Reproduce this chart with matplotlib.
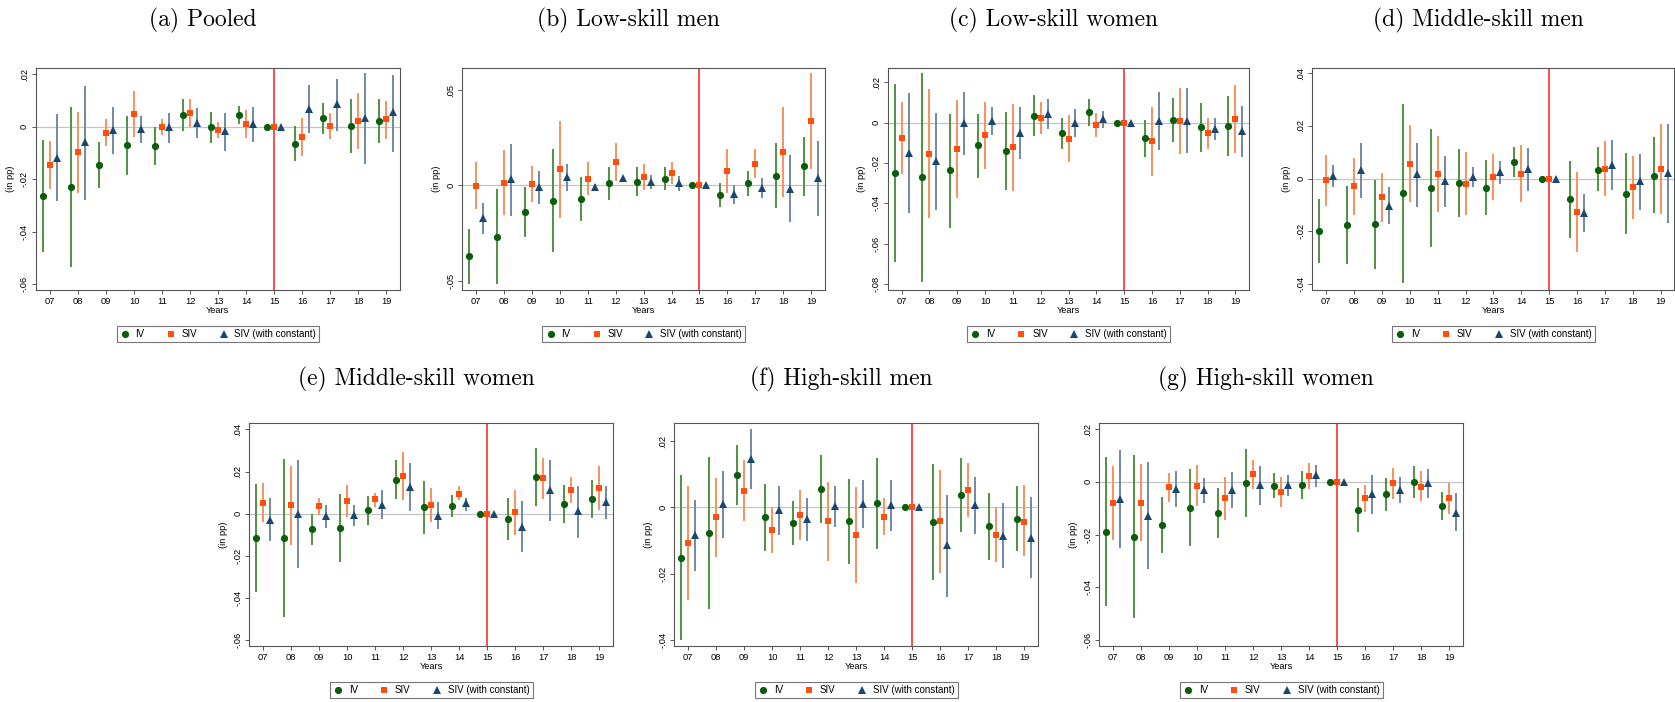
import matplotlib
matplotlib.use("Agg")
import matplotlib.pyplot as plt
from matplotlib.lines import Line2D

# ---------------- DATA ----------------
# each entry: (estimate, lower CI, upper CI) for years 2007..2019 (2015 = reference year)

years = list(range(7, 20))
year_labels = [f"{y:02d}" for y in years]

a_iv = [(-.0266, -.0479, -.0052), (-.0231, -.0535, .0073), (-.0146, -.0234, -.0059), (-.0071, -.0186, .0042),
        (-.0073, -.0148, 0), (.0043, -.0018, .0103), (-.0001, -.0061, .0056), (.0043, .0009, .0078), (0, 0, 0),
        (-.0065, -.0132, .0001), (.0031, -.0029, .0089), (.0001, -.0101, .0104), (.0022, -.0062, .0104)]
a_siv = [(-.0146, -.0237, -.0056), (-.0097, -.0252, .0056), (-.0023, -.0073, .0027), (.0048, -.0039, .0135),
         (0, -.0032, .0028), (.0052, -.0003, .0103), (-.0013, -.0043, .0018), (.0009, -.0043, .0062), (0, 0, 0),
         (-.0039, -.0112, .0031), (.0004, -.0046, .0052), (.0022, -.0084, .0126), (.0027, -.0048, .0099)]
a_sivc = [(-.0118, -.0282, .0046), (-.0059, -.0279, .0155), (-.0013, -.0104, .0076), (-.0009, -.0062, .0042),
          (0, -.0061, .0053), (.0014, -.0043, .007), (-.0018, -.0092, .0053), (.0009, -.0057, .0073), (0, 0, 0),
          (.0068, -.0024, .0159), (.0084, -.0018, .0181), (.0033, -.0143, .0203), (.0054, -.0096, .0197)]

b_iv = [(-.0371, -.0516, -.0229), (-.0269, -.0516, -.0021), (-.0142, -.0273, -.001), (-.008, -.0351, .0191),
        (-.0072, -.0189, .0044), (.001, -.0077, .0098), (.0019, -.0054, .0096), (.0035, -.0024, .0096), (0, 0, 0),
        (-.0052, -.0115, .0012), (.001, -.0056, .0075), (.0051, -.0121, .0222), (.01, -.0054, .0253)]
b_siv = [(-.0002, -.0126, .0121), (.0014, -.0154, .0184), (.0007, -.0086, .0101), (.0084, -.017, .0339),
         (.0035, -.0052, .0124), (.0122, .0023, .0222), (.0044, -.0026, .0112), (.0063, .0005, .0122), (0, 0, 0),
         (.0075, -.0038, .0191), (.0112, .0037, .0191), (.0173, -.0063, .0411), (.0337, .0087, .0587)]
b_sivc = [(-.0173, -.0257, -.0094), (.0033, -.0159, .0219), (-.0009, -.0096, .0077), (.0045, -.0028, .0112),
          (-.0007, -.0019, .0009), (.0037, .0016, .0051), (.0016, -.0021, .0054), (.001, -.0028, .0047), (0, 0, 0),
          (-.0047, -.0096, 0), (-.0012, -.0068, .0038), (-.0017, -.0192, .0159), (.004, -.0159, .0234)]

c_iv = [(-.0251, -.0693, .019), (-.0271, -.0788, .0245), (-.0236, -.0521, .0043), (-.0112, -.0273, .0043),
        (-.0139, -.0332, .0053), (.0035, -.0066, .0136), (-.0051, -.0131, .0025), (.0051, -.0018, .0119), (0, 0, 0),
        (-.0078, -.017, .0013), (.0013, -.0098, .0124), (-.0021, -.0144, .0099), (-.0017, -.0167, .0132)]
c_siv = [(-.0076, -.0256, .0104), (-.0155, -.0474, .0164), (-.0129, -.0372, .0112), (-.0061, -.0228, .0104),
         (-.0122, -.0337, .0091), (.0023, -.0055, .0104), (-.0079, -.0193, .0036), (-.0013, -.0074, .0046), (0, 0, 0),
         (-.0093, -.0263, .0076), (.0007, -.0155, .0169), (-.0053, -.0129, .0025), (.0018, -.015, .0187)]
c_sivc = [(-.015, -.045, .0145), (-.0192, -.0431, .0046), (-.0003, -.016, .0154), (.001, -.0061, .0078),
          (-.005, -.0179, .0078), (.0043, -.003, .0116), (-.0002, -.0073, .0068), (.0017, -.0025, .0055), (0, 0, 0),
          (.001, -.0136, .015), (.001, -.015, .0169), (-.0031, -.0086, .0023), (-.0043, -.0169, .0083)]

d_iv = [(-.0199, -.0322, -.0077), (-.0175, -.0323, -.0028), (-.0173, -.0343, -.0004), (-.0056, -.0395, .0284),
        (-.0034, -.0258, .019), (-.0015, -.0144, .0113), (-.0035, -.014, .007), (.0062, .0006, .0119), (0, 0, 0),
        (-.0078, -.0224, .0066), (.0033, -.0049, .0119), (-.0058, -.0211, .0096), (.0011, -.0132, .0157)]
d_siv = [(-.0006, -.0103, .009), (-.003, -.0139, .0078), (-.0071, -.0163, .0022), (.0057, -.0089, .0204),
         (.0019, -.0128, .0163), (-.002, -.0138, .01), (.0006, -.008, .0094), (.0019, -.0089, .0128), (0, 0, 0),
         (-.0125, -.0277, .0025), (.0038, -.0068, .0144), (-.0033, -.0154, .0087), (.0035, -.0135, .0206)]
d_sivc = [(.0011, -.0032, .0053), (.0033, -.0072, .0135), (-.0103, -.0173, -.0033), (.0016, -.0108, .0135),
          (-.0011, -.0109, .0085), (.0006, -.0032, .0043), (.0024, -.0019, .0065), (.0035, -.0047, .0116), (0, 0, 0),
          (-.0129, -.0201, -.0059), (.0053, -.0043, .0147), (-.0011, -.012, .0095), (.002, -.017, .0208)]

e_iv = [(-.0116, -.0373, .0143), (-.0117, -.0492, .0259), (-.0073, -.0149, 0), (-.0068, -.0232, .0092),
        (.0017, -.0052, .0084), (.0162, .0067, .0257), (.003, -.0097, .0157), (.0037, -.0016, .0089), (0, 0, 0),
        (-.0027, -.0124, .0073), (.0173, .0035, .0311), (.0046, -.0046, .0138), (.0071, -.0019, .0162)]
e_siv = [(.0052, -.0041, .0144), (.004, -.0148, .0225), (.0035, -.0008, .0076), (.006, -.0017, .0135),
         (.0068, .0033, .01), (.0179, .0063, .0295), (.0041, -.0038, .0121), (.0095, .0063, .013), (0, 0, 0),
         (.0006, -.01, .0113), (.0168, .0071, .0263), (.0111, .0049, .0175), (.0122, .0019, .0224)]
e_sivc = [(-.003, -.0132, .0073), (-.0002, -.0259, .0256), (-.0011, -.0067, .0043), (-.0006, -.0059, .0043),
          (.0043, -.0027, .0111), (.0127, .001, .0241), (-.001, -.0073, .0054), (.0048, .0013, .0075), (0, 0, 0),
          (-.0062, -.0184, .006), (.0111, -.0035, .0254), (.001, -.0116, .0133), (.0054, -.0025, .0132)]

f_iv = [(-.0152, -.0401, .0097), (-.0078, -.0307, .0151), (.0098, .0008, .0189), (-.003, -.013, .007),
        (-.0047, -.0114, .0019), (.0056, -.0047, .0158), (-.0042, -.017, .0086), (.0013, -.0124, .0149), (0, 0, 0),
        (-.0043, -.0219, .0132), (.0038, -.0074, .015), (-.0057, -.0157, .0043), (-.0034, -.0132, .0064)]
f_siv = [(-.0107, -.028, .0066), (-.0029, -.0149, .009), (.0051, -.0042, .0143), (-.0068, -.0136, .0001),
         (-.0022, -.0097, .0054), (-.0042, -.0161, .0077), (-.0084, -.0227, .0062), (-.0028, -.0082, .0028), (0, 0, 0),
         (-.0042, -.0198, .0114), (.0053, -.0028, .0135), (-.0084, -.0166, 0), (-.0045, -.0146, .0069)]
f_sivc = [(-.0083, -.0192, .0022), (.001, -.0092, .011), (.0147, .0056, .0237), (-.0008, -.0084, .0065),
          (-.0034, -.01, .0029), (.0004, -.0059, .0066), (.001, -.0063, .0082), (.0006, -.0072, .0082), (0, 0, 0),
          (-.0113, -.0269, .0038), (.0006, -.0079, .0092), (-.0085, -.0184, .0012), (-.0091, -.0213, .0032)]

g_iv = [(-.0189, -.0472, .0094), (-.0208, -.0517, .0103), (-.0162, -.027, -.0057), (-.0099, -.0245, .0048),
        (-.012, -.0215, -.0023), (-.0004, -.0132, .0123), (-.0015, -.0063, .0033), (-.0013, -.0067, .0042), (0, 0, 0),
        (-.0107, -.0191, -.0024), (-.0048, -.0109, .0016), (-.0001, -.0063, .0059), (-.0093, -.0146, -.0039)]
g_siv = [(-.0081, -.0221, .006), (-.0079, -.0226, .0069), (-.002, -.0075, .0034), (-.0015, -.0093, .0064),
         (-.0063, -.0146, .0019), (.0028, -.0028, .0082), (-.0038, -.0094, .0019), (.0023, -.0026, .0072), (0, 0, 0),
         (-.0063, -.0114, -.0013), (-.0006, -.0065, .0054), (-.0018, -.0072, .0042), (-.0063, -.0123, -.0005)]
g_sivc = [(-.0065, -.0253, .0121), (-.0128, -.0332, .0077), (-.0026, -.0094, .0042), (-.0031, -.0079, .0016),
          (-.003, -.0098, .0038), (-.0014, -.0089, .006), (-.0014, -.0055, .0026), (.0025, -.0018, .0064), (0, 0, 0),
          (-.0048, -.0121, .0024), (-.003, -.0081, .0019), (-.0004, -.0062, .0049), (-.0117, -.0187, -.0044)]

titles = ["(a) Pooled", "(b) Low-skill men", "(c) Low-skill women", "(d) Middle-skill men",
          "(e) Middle-skill women", "(f) High-skill men", "(g) High-skill women"]
series_names = ["IV", "SIV", "SIV (with constant)"]

# ---------------- STYLE ----------------

W, H = 1675, 702
fig = plt.figure(figsize=(W / 100, H / 100), dpi=100)
fig.patch.set_facecolor("white")

styles = [
    dict(marker="o", mcolor="#0b5d0b", ccolor="#4f9244", ms=5.2, off=-0.25),
    dict(marker="s", mcolor="#ff4f0f", ccolor="#f7935e", ms=4.9, off=0.0),
    dict(marker="^", mcolor="#1a476f", ccolor="#7189a4", ms=5.4, off=0.25),
]

# panel layout in pixels: left, top, right, bottom, ylim, yticks
panels = [
    (titles[0], [a_iv, a_siv, a_sivc], (36, 67.7, 400, 290), (-0.0622, 0.0224), [.02, 0, -.02, -.04, -.06]),
    (titles[1], [b_iv, b_siv, b_sivc], (462.3, 67.7, 825, 290), (-0.0549, 0.0617), [.05, 0, -.05]),
    (titles[2], [c_iv, c_siv, c_sivc], (887.7, 67.7, 1249.3, 290), (-0.083, 0.0272), [.02, 0, -.02, -.04, -.06, -.08]),
    (titles[3], [d_iv, d_siv, d_sivc], (1312.3, 67.7, 1674.5, 290), (-0.0423, 0.0421), [.04, .02, 0, -.02, -.04]),
    (titles[4], [e_iv, e_siv, e_sivc], (249.3, 423.3, 613.3, 646), (-0.0629, 0.0429), [.04, .02, 0, -.02, -.04, -.06]),
    (titles[5], [f_iv, f_siv, f_sivc], (674.3, 423.3, 1038.3, 646), (-0.0418, 0.0254), [.02, 0, -.02, -.04]),
    (titles[6], [g_iv, g_siv, g_sivc], (1099.3, 423.3, 1463.3, 646), (-0.0623, 0.0222), [.02, 0, -.02, -.04, -.06]),
]


def stata_fmt(v):
    if v == 0:
        return "0"
    s = f"{v:.2f}"
    return s.replace("0.", ".")


# ---------------- PANELS ----------------

for title, series, (l, t, r, b), ylim, yticks in panels:
    ax = fig.add_axes([l / W, 1 - b / H, (r - l) / W, (b - t) / H])
    ax.axhline(0, color="#c4c4c4", lw=0.9, zorder=1)
    ax.axvline(15, color="#ff1a1a", lw=1.1, zorder=2)

    for data, st in zip(series, styles):
        xs = [y + st["off"] for y in years]
        est = [d[0] for d in data]
        for x, (e, lo, hi) in zip(xs, data):
            if hi > lo:
                ax.plot([x, x], [lo, hi], color=st["ccolor"], lw=1.4, solid_capstyle="butt", zorder=3)
        ax.plot(xs, est, ls="none", marker=st["marker"], color=st["mcolor"],
                ms=st["ms"], mew=0, zorder=4)

    ax.set_xlim(6.5, 19.5)
    ax.set_ylim(*ylim)
    ax.set_xticks(years)
    ax.set_xticklabels(year_labels, fontsize=6.7, family="Liberation Sans")
    ax.set_yticks(yticks)
    ax.set_yticklabels([stata_fmt(v) for v in yticks], fontsize=6.7, family="Liberation Sans",
                       rotation=90, va="center")
    ax.tick_params(length=3, width=0.7, color="#555555", pad=2)
    ax.set_xlabel("Years", fontsize=6.7, family="Liberation Sans", labelpad=0)
    ax.set_ylabel("(in pp)", fontsize=6.7, family="Liberation Sans", labelpad=4)
    for sp in ax.spines.values():
        sp.set_color("#555555")
        sp.set_linewidth(0.8)

    handles = [Line2D([], [], ls="none", marker=st["marker"], color=st["mcolor"], ms=st["ms"], mew=0)
               for st in styles]
    leg = ax.legend(handles, series_names, loc="center", bbox_to_anchor=(0.5, -0.198), ncol=3,
                    prop=dict(family="Liberation Sans", size=7), frameon=True, fancybox=False,
                    edgecolor="#555555", handlelength=1.0, handletextpad=0.6, columnspacing=2.2,
                    borderpad=0.35)
    leg.get_frame().set_linewidth(0.8)

    cx = (l + r) / 2 - 15
    ty = 20 if t < 200 else 379
    fig.text(cx / W, 1 - ty / H, title, family="cmr10", fontsize=17, ha="center", va="center")

fig.savefig("out.png", dpi=100, facecolor="white")
